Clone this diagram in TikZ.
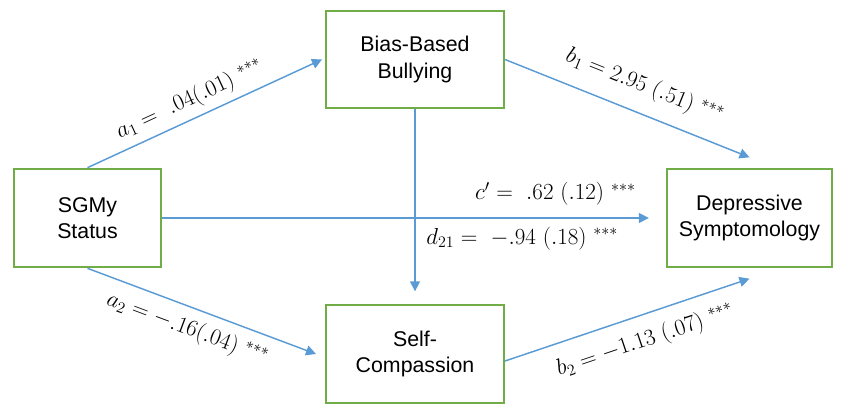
\documentclass[tikz,border=0pt]{standalone}
\usepackage[no-math]{fontspec}
\newfontfamily\boxfont{Liberation Sans}
\usepackage{xcolor}
\definecolor{pathBlue}{HTML}{5B9BD5}
\definecolor{boxGreen}{HTML}{70AD47}
\usetikzlibrary{
    arrows.meta,
    positioning
}
\tikzset{
    % Base style for the variable boxes
    var box/.style={
        font=\boxfont\fontsize{16}{20}\selectfont,
        align=center,
        draw=boxGreen,
        line width=1.5pt,
        minimum width=133.5pt,
        minimum height=73pt,
        inner sep=0pt,
    },
    % Path arrows - plain blue with filled tip
    path arrow/.style={
        -{Triangle[length=7.5pt, width=7.5pt]},
        line width=1.1pt,
        draw=pathBlue,
    },
    % Coefficient labels on the paths
    coef label/.style={
        font=\fontsize{17}{20}\selectfont,
        inner sep=2pt,
    },
}

\begin{document}
\begin{tikzpicture}[x=0.75pt, y=-0.75pt]
    \useasboundingbox (0,0) rectangle (845,406);

    \node (sgmy) [var box, minimum width=110pt, minimum height=74pt] at (87.5,218) {SGMy\\Status};
    \node (bias) [var box] at (415,59.5) {Bias-Based\\Bullying};
    \node (selfc) [var box] at (415,354) {Self-\\Compassion};
    \node (dep) [var box, minimum width=124pt] at (749.5,218) {Depressive\\Symptomology};

    \draw [path arrow] (sgmy.north) -- node[coef label, sloped, above=3pt, pos=0.47] (la1) {$a_1 =\ .04(.01)\ {}^{***}$} ([xshift=-2.25pt]bias.west);
    \draw [path arrow] (bias.east) -- node[coef label, sloped, above=9pt, pos=0.53] (lb1) {$b_1 = 2.95\ (.51)\ {}^{***}$} ([yshift=8.25pt]dep.north);
    \draw [path arrow] (sgmy.east) -- node[coef label, pos=0.98, anchor=south east, yshift=7pt] (lc) {$c' =\ .62\ (.12)\ {}^{***}$} ([xshift=-12.75pt]dep.west);
    \draw [path arrow] (bias.south) -- node[coef label, pos=0.71, anchor=west, xshift=6pt] (ld) {$d_{21} =\ -.94\ (.18)\ {}^{***}$} ([yshift=9.75pt]selfc.north);
    \draw [path arrow] (sgmy.south) -- node[coef label, sloped, below=5pt, pos=0.47] (la2) {$a_2 = -.16(.04)\ {}^{***}$} ([xshift=-6.75pt]selfc.west);
    \draw [path arrow] ([yshift=-5.25pt]selfc.east) -- node[coef label, sloped, below=8pt, pos=0.54] (lb2) {$b_2 = -1.13\ (.07)\ {}^{***}$} ([yshift=-8.25pt]dep.south);
\end{tikzpicture}
\end{document}
